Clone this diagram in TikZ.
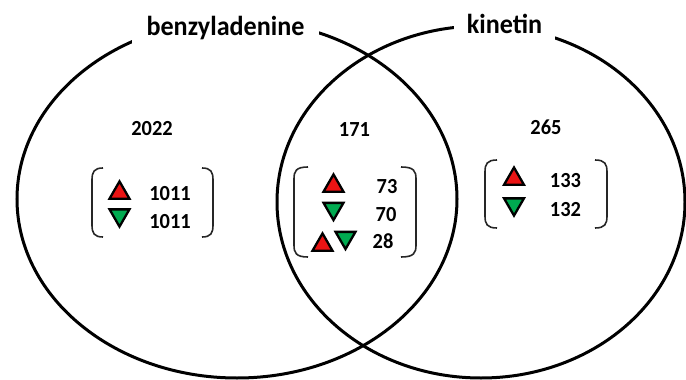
\documentclass[tikz,border=0pt]{standalone}
\usepackage{fontspec}
\setmainfont{Carlito}
\newfontfamily\vennnarrow[FakeStretch=0.95]{Carlito}
\usetikzlibrary{shapes.geometric}
\definecolor{upred}{RGB}{235,20,20}
\definecolor{downgreen}{RGB}{0,170,80}
\tikzset{
  setshape/.style={draw, ellipse, inner sep=0pt, outer sep=0pt, line width=3pt},
  setlabel/.style={fill=white, anchor=base, font=\vennnarrow\fontsize{27.5}{30}\selectfont\bfseries,
    inner xsep=15pt, inner ysep=3pt, text height=20pt, text depth=8pt},
  num/.style={font=\vennnarrow\fontsize{21.5}{24}\selectfont\bfseries, inner sep=0pt},
  uptri/.style={regular polygon, regular polygon sides=3, draw, line width=2.3pt,
    line join=miter, fill=upred, minimum size=23pt, inner sep=0pt, outer sep=0pt},
  downtri/.style={uptri, fill=downgreen, shape border rotate=180},
  brk/.style={line width=1.6pt, black!85}
}
% left bracket: outer x, end x, top y, bottom y
\newcommand\vennbrL[4]{\draw[brk] (#2,#3) .. controls ({#1+2},#3) and (#1,{#3+4}) .. (#1,{#3+12}) -- (#1,{#4-12}) .. controls (#1,{#4-4}) and ({#1+2},#4) .. (#2,#4);}
\newcommand\vennbrR[4]{\draw[brk] (#2,#3) .. controls ({#1-2},#3) and (#1,{#3+4}) .. (#1,{#3+12}) -- (#1,{#4-12}) .. controls (#1,{#4-4}) and ({#1-2},#4) .. (#2,#4);}
\begin{document}
\begin{tikzpicture}[x=1pt,y=-1pt]
\useasboundingbox (0,0) rectangle (686,380);
% sets
\node[setshape, minimum width=440pt, minimum height=358pt] (setBA) at (237,199) {};
\node[setshape, minimum width=408pt, minimum height=352pt] (setK) at (481,202) {};
\node[setlabel] (labBA) at (225.5,35) {benzyladenine};
\node[setlabel, inner xsep=12.5pt] (labK) at (504.5,33) {kinetin};
% left region
\node[num] (totA) at (152,128.5) {2022};
\node[uptri] (aup) at (119.5,192.9) {};
\node[downtri] (adown) at (119.5,215.1) {};
\node[num] (aupn) at (170,194) {1011};
\node[num] (adownn) at (170,221.5) {1011};
\vennbrL{92}{103}{168}{237}
\vennbrR{213}{202}{168}{237}
% middle region
\node[num] (totAK) at (354.5,130) {171};
\node[uptri] (mup) at (333.5,185.9) {};
\node[downtri] (mdown) at (333.5,208.6) {};
\node[uptri] (mbothu) at (322.5,244.9) {};
\node[downtri] (mbothd) at (345.5,237.6) {};
\node[num] (mupn) at (387,187) {73};
\node[num] (mdownn) at (386,215) {70};
\node[num] (mbothn) at (383,241.5) {28};
\vennbrL{294}{308}{167}{257}
\vennbrR{416}{401}{167}{257}
% right region
\node[num] (totK) at (546,127) {265};
\node[uptri] (kup) at (514,179) {};
\node[downtri] (kdown) at (514,204.1) {};
\node[num] (kupn) at (565.5,180.5) {133};
\node[num] (kdownn) at (565.5,210) {132};
\vennbrL{485}{497}{160}{228}
\vennbrR{607}{595}{160}{228}
\end{tikzpicture}
\end{document}
